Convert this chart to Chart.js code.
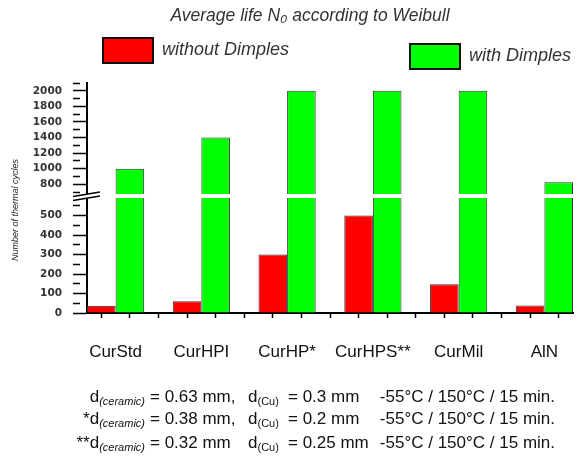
<!DOCTYPE html>
<html>
<head>
<meta charset="utf-8">
<script src="https://cdn.jsdelivr.net/npm/chart.js@4"></script>
<style>
  html, body { margin: 0; padding: 0; background: #fff; }
  #wrap { position: relative; width: 581px; height: 461px; }
  #chart { position: absolute; left: 0; top: 0; }
  .note { position: absolute; left: 0; width: 581px; height: 22px; line-height: 22px;
          font-family: 'Liberation Sans', Arial, sans-serif; font-size: 17px; color: #111; }
  .note span { position: absolute; top: 0; white-space: nowrap; }
  .note sub { font-size: 11px; vertical-align: -3px; }
  .note sub.cer { font-style: italic; }
  .a { left: 0; width: 145px; text-align: right; }
  .b { left: 150px; }
  .c { left: 248px; }
  .d { left: 288px; }
  .e { right: 26px; }
</style>
</head>
<body>
<div id="wrap">
  <canvas id="chart" width="581" height="461"></canvas>
  <div class="note" style="top:386px">
    <span class="a">d<sub class="cer">(ceramic)</sub></span>
    <span class="b">= 0.63 mm,</span>
    <span class="c">d<sub>(Cu)</sub></span>
    <span class="d">= 0.3 mm</span>
    <span class="e">-55°C / 150°C / 15 min.</span>
  </div>
  <div class="note" style="top:408px">
    <span class="a">*d<sub class="cer">(ceramic)</sub></span>
    <span class="b">= 0.38 mm,</span>
    <span class="c">d<sub>(Cu)</sub></span>
    <span class="d">= 0.2 mm</span>
    <span class="e">-55°C / 150°C / 15 min.</span>
  </div>
  <div class="note" style="top:432px">
    <span class="a">**d<sub class="cer">(ceramic)</sub></span>
    <span class="b">= 0.32 mm</span>
    <span class="c">d<sub>(Cu)</sub></span>
    <span class="d">= 0.25 mm</span>
    <span class="e">-55°C / 150°C / 15 min.</span>
  </div>
</div>
<script>
const categories = ['CurStd', 'CurHPI', 'CurHP*', 'CurHPS**', 'CurMil', 'AlN'];
const seriesNames = ['without Dimples', 'with Dimples'];
const withoutDimples = [37, 60, 300, 500, 147, 38];
const withDimples = [1000, 1400, 2000, 2000, 2000, 825];
const lowerLabels = [0, 100, 200, 300, 400, 500];
const upperLabels = [800, 1000, 1200, 1400, 1600, 1800, 2000];
const colors = ['#ff0000', '#00ff00'];
const chartTitle = 'Average life N\u2080 according to Weibull';
const yTitle = 'Number of thermal cycles';

// broken value axis: lower part 0..600, upper part 650..2100
const lowerMax = 600;
const upperMin = 650;
const upperMax = 2100;

// three slots per category: red, green, gap
const slot = i => 3 * i + 1;

function lowPart(values) {
    return values.map((v, i) => ({ x: slot(i), y: Math.min(v, lowerMax) }));
}
function highPart(values) {
    return values.map((v, i) => ({ x: slot(i), y: v > upperMin ? [upperMin, v] : null }));
}

const datasets = [];
[withoutDimples, withDimples].forEach((values, s) => {
    const common = {
        label: seriesNames[s],
        stack: 's' + s,
        backgroundColor: colors[s],
        borderColor: '#333',
        borderWidth: 1,
        categoryPercentage: 2,
        barPercentage: 1
    };
    datasets.push(Object.assign({}, common, { data: lowPart(values), yAxisID: 'y' }));
    datasets.push(Object.assign({}, common, { data: highPart(values), yAxisID: 'yTop' }));
});

const tickFont = { family: 'DejaVu Sans', size: 10.5, weight: 'bold' };

function valueAxis(min, max, step, labels, weight) {
    return {
        type: 'linear',
        position: 'left',
        stack: 'value',
        stackWeight: weight,
        stacked: false,
        offset: false,
        min: min,
        max: max,
        afterBuildTicks: scale => {
            const ticks = [];
            for (let v = Math.ceil(min / step) * step; v <= max; v += step) {
                if (v > min || min === 0) {
                    if (v < max || max === upperMax) ticks.push({ value: v });
                }
            }
            scale.ticks = ticks;
        },
        afterFit: scale => { scale.width = 87; },
        ticks: {
            autoSkip: false,
            padding: 11,
            color: '#333',
            font: tickFont,
            callback: v => (labels.includes(v) ? String(v) : '')
        },
        grid: {
            drawOnChartArea: false,
            drawTicks: true,
            tickLength: 14,
            tickWidth: 1.5,
            tickColor: '#000',
            tickBorderDash: c => (labels.includes(c.tick.value) ? [] : [7, 30])
        },
        border: { display: true, color: '#000', width: 2 }
    };
}

const decor = {
    id: 'decor',
    afterDatasetsDraw(chart) {
        const ctx = chart.ctx;
        const area = chart.chartArea;
        const b = chart.scales.y.top;
        ctx.save();
        ctx.fillStyle = '#fff';
        ctx.fillRect(area.left + 1.5, b - 2, area.right - area.left, 4);
        ctx.restore();
    },
    afterDraw(chart) {
        const ctx = chart.ctx;
        const b = chart.scales.y.top;
        const ax = chart.scales.y.right;
        ctx.save();

        // axis break marks
        ctx.fillStyle = '#fff';
        ctx.fillRect(ax - 3, b - 2, 6, 4);
        ctx.strokeStyle = '#000';
        ctx.lineWidth = 1.3;
        ctx.beginPath();
        ctx.moveTo(ax - 14, b + 0.5);
        ctx.lineTo(ax + 13, b - 4);
        ctx.moveTo(ax - 14, b + 4.5);
        ctx.lineTo(ax + 13, b);
        ctx.stroke();

        // title
        ctx.fillStyle = '#333';
        ctx.font = 'italic 17.5px "Liberation Sans"';
        ctx.textAlign = 'center';
        ctx.textBaseline = 'middle';
        ctx.fillText(chartTitle, 310, 16);

        // legend, staggered like the original
        const spots = [{ x: 103, y: 38 }, { x: 410, y: 44 }];
        ctx.font = 'italic 18px "Liberation Sans"';
        ctx.textAlign = 'left';
        spots.forEach((p, s) => {
            ctx.fillStyle = colors[s];
            ctx.fillRect(p.x, p.y, 50, 25);
            ctx.lineWidth = 2;
            ctx.strokeStyle = '#111';
            ctx.strokeRect(p.x, p.y, 50, 25);
            ctx.fillStyle = '#333';
            ctx.fillText(seriesNames[s], p.x + 59, p.y + 12);
        });

        // y axis title
        ctx.translate(15, 210);
        ctx.rotate(-Math.PI / 2);
        ctx.font = 'italic 9px "Liberation Sans"';
        ctx.textAlign = 'center';
        ctx.fillStyle = '#222';
        ctx.fillText(yTitle, 0, 0);
        ctx.restore();
    }
};

new Chart(document.getElementById('chart'), {
    type: 'bar',
    data: { datasets: datasets },
    options: {
        responsive: false,
        animation: false,
        layout: { padding: { left: 0, right: 8, top: 83, bottom: 0 } },
        scales: {
            y: valueAxis(0, lowerMax, 50, lowerLabels, 117),
            yTop: valueAxis(upperMin, upperMax, 100, upperLabels, 113),
            x: {
                type: 'linear',
                position: 'bottom',
                min: 0,
                max: 17,
                offset: false,
                afterFit: scale => {
                    scale.height = 148;
                    scale.paddingLeft = 0;
                    scale.paddingRight = 0;
                },
                ticks: {
                    stepSize: 1,
                    autoSkip: false,
                    maxRotation: 0,
                    padding: 24,
                    color: '#111',
                    font: { family: 'Liberation Sans', size: 17 },
                    callback: v => (v % 3 === 1 ? categories[(v - 1) / 3] : '')
                },
                grid: {
                    drawOnChartArea: false,
                    tickLength: 5,
                    tickWidth: 1.5,
                    tickColor: '#000'
                },
                border: { display: true, color: '#000', width: 2 }
            }
        },
        plugins: {
            legend: { display: false },
            tooltip: { enabled: false },
            title: { display: false }
        }
    },
    plugins: [decor]
});
</script>
</body>
</html>
